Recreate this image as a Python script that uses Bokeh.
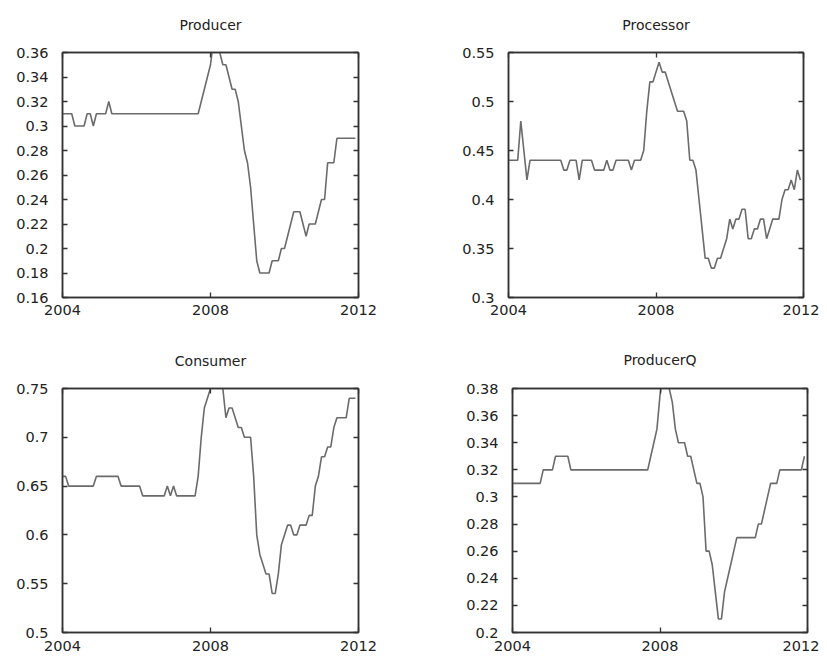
import numpy as np
from bokeh.plotting import figure
from bokeh.models import LinearAxis, FixedTicker, Range1d
from bokeh.layouts import column, row
from bokeh.embed import file_html
from bokeh.resources import INLINE

# monthly observations, Jan 2004 .. Dec 2011
months = np.arange(96)
years = 2004 + months / 12.0

producer = [0.31, 0.31, 0.31, 0.31, 0.30, 0.30, 0.30, 0.30, 0.31, 0.31,
            0.30, 0.31, 0.31, 0.31, 0.31, 0.32, 0.31, 0.31, 0.31, 0.31,
            0.31, 0.31, 0.31, 0.31, 0.31, 0.31, 0.31, 0.31, 0.31, 0.31,
            0.31, 0.31, 0.31, 0.31, 0.31, 0.31, 0.31, 0.31, 0.31, 0.31,
            0.31, 0.31, 0.31, 0.31, 0.31, 0.32, 0.33, 0.34, 0.35, 0.37,
            0.37, 0.36, 0.35, 0.35, 0.34, 0.33, 0.33, 0.32, 0.30, 0.28,
            0.27, 0.25, 0.22, 0.19, 0.18, 0.18, 0.18, 0.18, 0.19, 0.19,
            0.19, 0.20, 0.20, 0.21, 0.22, 0.23, 0.23, 0.23, 0.22, 0.21,
            0.22, 0.22, 0.22, 0.23, 0.24, 0.24, 0.27, 0.27, 0.27, 0.29,
            0.29, 0.29, 0.29, 0.29, 0.29, 0.29]

processor = [0.44, 0.44, 0.44, 0.44, 0.48, 0.45, 0.42, 0.44, 0.44, 0.44,
             0.44, 0.44, 0.44, 0.44, 0.44, 0.44, 0.44, 0.44, 0.43, 0.43,
             0.44, 0.44, 0.44, 0.42, 0.44, 0.44, 0.44, 0.44, 0.43, 0.43,
             0.43, 0.43, 0.44, 0.43, 0.43, 0.44, 0.44, 0.44, 0.44, 0.44,
             0.43, 0.44, 0.44, 0.44, 0.45, 0.49, 0.52, 0.52, 0.53, 0.54,
             0.53, 0.53, 0.52, 0.51, 0.50, 0.49, 0.49, 0.49, 0.48, 0.44,
             0.44, 0.43, 0.40, 0.37, 0.34, 0.34, 0.33, 0.33, 0.34, 0.34,
             0.35, 0.36, 0.38, 0.37, 0.38, 0.38, 0.39, 0.39, 0.36, 0.36,
             0.37, 0.37, 0.38, 0.38, 0.36, 0.37, 0.38, 0.38, 0.38, 0.40,
             0.41, 0.41, 0.42, 0.41, 0.43, 0.42]

consumer = [0.66, 0.66, 0.65, 0.65, 0.65, 0.65, 0.65, 0.65, 0.65, 0.65,
            0.65, 0.66, 0.66, 0.66, 0.66, 0.66, 0.66, 0.66, 0.66, 0.65,
            0.65, 0.65, 0.65, 0.65, 0.65, 0.65, 0.64, 0.64, 0.64, 0.64,
            0.64, 0.64, 0.64, 0.64, 0.65, 0.64, 0.65, 0.64, 0.64, 0.64,
            0.64, 0.64, 0.64, 0.64, 0.66, 0.70, 0.73, 0.74, 0.75, 0.77,
            0.78, 0.77, 0.75, 0.72, 0.73, 0.73, 0.72, 0.71, 0.71, 0.70,
            0.70, 0.70, 0.66, 0.60, 0.58, 0.57, 0.56, 0.56, 0.54, 0.54,
            0.56, 0.59, 0.60, 0.61, 0.61, 0.60, 0.60, 0.61, 0.61, 0.61,
            0.62, 0.62, 0.65, 0.66, 0.68, 0.68, 0.69, 0.69, 0.71, 0.72,
            0.72, 0.72, 0.72, 0.74, 0.74, 0.74]

producer_q = [0.31, 0.31, 0.31, 0.31, 0.31, 0.31, 0.31, 0.31, 0.31, 0.31,
              0.32, 0.32, 0.32, 0.32, 0.33, 0.33, 0.33, 0.33, 0.33, 0.32,
              0.32, 0.32, 0.32, 0.32, 0.32, 0.32, 0.32, 0.32, 0.32, 0.32,
              0.32, 0.32, 0.32, 0.32, 0.32, 0.32, 0.32, 0.32, 0.32, 0.32,
              0.32, 0.32, 0.32, 0.32, 0.32, 0.33, 0.34, 0.35, 0.375, 0.39,
              0.39, 0.38, 0.37, 0.35, 0.34, 0.34, 0.34, 0.33, 0.33, 0.32,
              0.31, 0.31, 0.30, 0.26, 0.26, 0.25, 0.23, 0.21, 0.21, 0.23,
              0.24, 0.25, 0.26, 0.27, 0.27, 0.27, 0.27, 0.27, 0.27, 0.27,
              0.28, 0.28, 0.29, 0.30, 0.31, 0.31, 0.31, 0.32, 0.32, 0.32,
              0.32, 0.32, 0.32, 0.32, 0.32, 0.33]

x_ticks = [2004, 2008, 2012]
x_labels = ["2004", "2008", "2012"]

producer_ticks = [0.16, 0.18, 0.2, 0.22, 0.24, 0.26, 0.28, 0.3, 0.32, 0.34, 0.36]
producer_labels = ["0.16", "0.18", "0.2", "0.22", "0.24", "0.26", "0.28", "0.3", "0.32", "0.34", "0.36"]
processor_ticks = [0.3, 0.35, 0.4, 0.45, 0.5, 0.55]
processor_labels = ["0.3", "0.35", "0.4", "0.45", "0.5", "0.55"]
consumer_ticks = [0.5, 0.55, 0.6, 0.65, 0.7, 0.75]
consumer_labels = ["0.5", "0.55", "0.6", "0.65", "0.7", "0.75"]
producer_q_ticks = [0.2, 0.22, 0.24, 0.26, 0.28, 0.3, 0.32, 0.34, 0.36, 0.38]
producer_q_labels = ["0.2", "0.22", "0.24", "0.26", "0.28", "0.3", "0.32", "0.34", "0.36", "0.38"]

FONT = "DejaVu Sans"
DARK = "#333333"
TXT = "#222222"


def style_axis(ax, labels_on, standoff):
    ax.major_tick_in = 5
    ax.major_tick_out = 0
    ax.minor_tick_in = 0
    ax.minor_tick_out = 0
    ax.axis_line_color = DARK
    ax.axis_line_width = 1.5
    ax.major_tick_line_color = DARK
    ax.major_tick_line_width = 1.3
    if labels_on:
        ax.major_label_text_font = FONT
        ax.major_label_text_font_size = "14.5px"
        ax.major_label_text_color = TXT
        ax.major_label_standoff = standoff
    else:
        ax.major_label_text_font_size = "1px"
        ax.major_label_standoff = 0


def make(title, vals, yticks, ylabels, fw, fh, left, right, top, bottom, xstand, tstand):
    p = figure(frame_width=fw, frame_height=fh,
               min_border_left=left, min_border_right=right,
               min_border_top=top, min_border_bottom=bottom,
               x_range=Range1d(2004, 2012),
               y_range=Range1d(yticks[0], yticks[-1]),
               x_axis_type=None, y_axis_type=None,
               output_backend="svg", toolbar_location=None)
    p.grid.visible = False
    p.outline_line_color = DARK
    p.outline_line_width = 1.5
    p.background_fill_color = "white"
    p.border_fill_color = "white"

    yl = LinearAxis(ticker=FixedTicker(ticks=yticks),
                    major_label_overrides=dict(zip(yticks, ylabels)))
    style_axis(yl, True, 14)
    p.add_layout(yl, "left")
    yr = LinearAxis(ticker=FixedTicker(ticks=yticks),
                    major_label_overrides={t: "" for t in yticks})
    style_axis(yr, False, 0)
    p.add_layout(yr, "right")
    xb = LinearAxis(ticker=FixedTicker(ticks=x_ticks),
                    major_label_overrides=dict(zip(x_ticks, x_labels)))
    style_axis(xb, True, xstand)
    p.add_layout(xb, "below")
    # top axis carries the panel title as its label
    xa = LinearAxis(ticker=FixedTicker(ticks=x_ticks),
                    major_label_overrides={t: "" for t in x_ticks},
                    axis_label=title)
    style_axis(xa, False, 0)
    xa.axis_label_text_font = FONT
    xa.axis_label_text_font_size = "14px"
    xa.axis_label_text_font_style = "normal"
    xa.axis_label_text_color = TXT
    xa.axis_label_standoff = tstand
    p.add_layout(xa, "above")

    p.line(years, vals, line_color="#6b6b6b", line_width=1.6)
    return p


p1 = make("Producer", producer, producer_ticks, producer_labels, 296, 245, 62, 50, 52, 41, 7, 20)
p2 = make("Processor", processor, processor_ticks, processor_labels, 295, 245, 100, 16, 52, 41, 7, 20)
p3 = make("Consumer", consumer, consumer_ticks, consumer_labels, 296, 244, 62, 50, 50, 20, 8, 20)
p4 = make("ProducerQ", producer_q, producer_q_ticks, producer_q_labels, 295, 244, 104, 12, 49, 21, 8, 21)

layout = column(row(p1, p2), row(p3, p4))

with open("out.html", "w") as f:
    f.write(file_html(layout, INLINE))
